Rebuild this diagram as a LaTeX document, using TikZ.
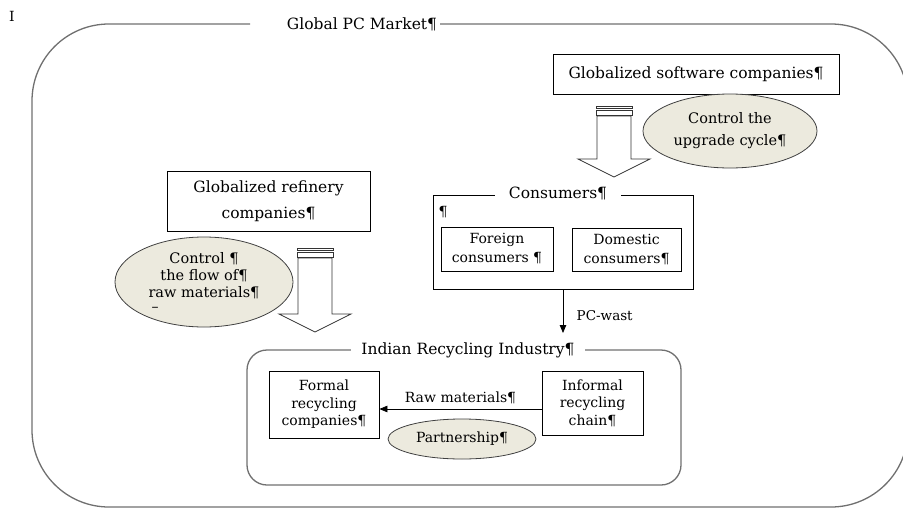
\documentclass[tikz,border=0pt]{standalone}
\usepackage{fontspec}
\setmainfont{DejaVu Serif}
\usepackage{tikz}
\usetikzlibrary{positioning, arrows.meta, calc, shapes.geometric}
\definecolor{ovalfill}{RGB}{236,234,222}
\definecolor{framegray}{RGB}{112,112,112}
\newcommand{\bigtext}{\fontsize{15.5}{20}\selectfont}
\newcommand{\smalltext}{\fontsize{14}{17.5}\selectfont}
% fat arrow: top point, shaft length
\newcommand{\fatarrow}[2]{%
  \draw[barline] ($(#1)+(-18,0)$) rectangle ++(36,2);
  \draw[barline] ($(#1)+(-18,4)$) rectangle ++(36,5);
  \draw[blockarr] ($(#1)+(-17,10)$) -- ++(0,#2) -- ++(-19,0) -- ++(36,18)
    -- ++(36,-18) -- ++(-19,0) -- ++(0,-#2) -- cycle;}
\tikzset{
  box/.style={draw, line width=0.8pt, align=center, inner sep=0pt, font=\smalltext},
  oval/.style={ellipse, draw=black!75, fill=ovalfill, line width=0.8pt, align=center, inner sep=0pt, font=\smalltext},
  frame/.style={draw=framegray, line width=1.3pt},
  heading/.style={fill=white, inner ysep=1pt, font=\bigtext},
  arr/.style={-{Triangle[length=8pt,width=6.5pt]}, line width=0.8pt},
  barline/.style={draw=black!80, line width=0.7pt, fill=white},
  blockarr/.style={draw=black!80, line width=0.8pt, fill=white}
}

\begin{document}
\begin{tikzpicture}[x=1pt, y=-1pt]
  \useasboundingbox (0,0) rectangle (903,509);
  \clip (0,0) rectangle (903,509);

  % cursor mark
  \node[font=\smalltext] (cursor) at (12,16) {I};

  % Global PC market
  \draw[frame, rounded corners=77pt] (250,24) -- (32,24) -- (32,507) -- (908,507) -- (908,24) -- (440,24);
  \node[font=\bigtext] (market) at (362,24) {Global PC Market¶};

  % Software side
  \node[box, font=\bigtext, minimum width=286pt, minimum height=40pt] (soft) at (696,74) {Globalized software companies¶};
  \node[oval, minimum width=174pt, minimum height=74pt, font=\fontsize{14.5}{22}\selectfont] (upgrade) at (730,131) {Control the\\upgrade cycle¶};
  \coordinate (drop1) at (614,106);
  \fatarrow{drop1}{43}

  % Consumers
  \node[draw, line width=0.8pt, minimum width=260pt, minimum height=94pt, inner sep=0pt] (cons) at (563,242) {};
  \node[heading, inner xsep=14pt] (constitle) at (558,193) {Consumers¶};
  \node[font=\smalltext] (consmark) at (443,212) {¶};
  \node[box, font=\fontsize{14}{19}\selectfont, minimum width=112pt, minimum height=44pt] (foreign) at (497,249) {Foreign\\consumers ¶};
  \node[box, font=\fontsize{14}{19}\selectfont, minimum width=109pt, minimum height=43pt] (domestic) at (626.5,249.5) {Domestic\\consumers¶};

  % Refinery side
  \node[box, font=\fontsize{15.5}{26}\selectfont, minimum width=203pt, minimum height=60pt] (refinery) at (268.5,201) {Globalized refinery\\companies¶};
  \node[oval, minimum width=178pt, minimum height=90pt, font=\fontsize{14.5}{17}\selectfont] (flow) at (204,282) {Control ¶\\the flow of¶\\raw materials¶\\[-2pt]\phantom{x}};
  \node[font=\smalltext] (flowmark) at (155,309) {–};
  \coordinate (drop2) at (315,248);
  \fatarrow{drop2}{56}

  % Indian recycling industry
  \draw[frame, rounded corners=20pt] (247,350) rectangle (681,485);
  \node[heading, inner xsep=10pt] (india) at (468,350) {Indian Recycling Industry¶};
  \node[box, minimum width=110pt, minimum height=67pt] (formal) at (324,404.5) {Formal\\recycling\\companies¶};
  \node[box, minimum width=101pt, minimum height=64pt] (informal) at (592.5,403) {Informal\\recycling\\chain¶};
  \node[oval, minimum width=148pt, minimum height=40pt] (partner) at (462,439) {Partnership¶};

  % Flows
  \coordinate (wasteend) at (563,333);
  \draw[arr] (cons.south) -- node[pos=0.6, right=10pt, font=\fontsize{13.5}{16}\selectfont] (pcwast) {PC-wast} (wasteend);
  \coordinate (rawlevel) at (460,409);
  \draw[arr] (informal.west |- rawlevel) -- node[above=1pt] (rawlabel) {\smalltext Raw materials¶} (formal.east |- rawlevel);
\end{tikzpicture}
\end{document}
